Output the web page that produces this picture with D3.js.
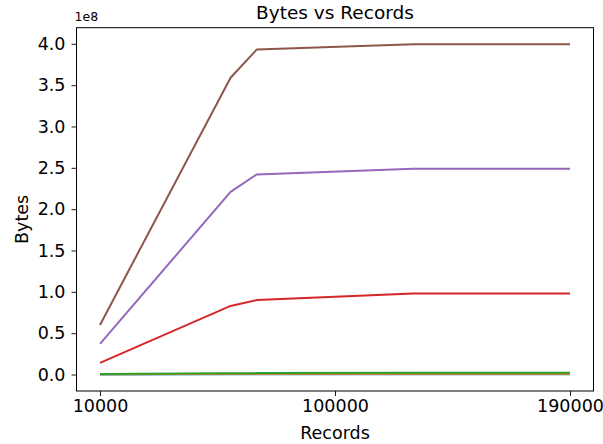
<!DOCTYPE html>
<html>
<head>
<meta charset="utf-8">
<script src="https://cdn.jsdelivr.net/npm/d3@7"></script>
<style>
  html, body { margin: 0; padding: 0; background: #fff; }
  svg { display: block; font-family: "DejaVu Sans", sans-serif; }
</style>
</head>
<body>
<svg id="chart" width="603" height="444"></svg>
<script>
// ---- data ----
const records = [10000, 60000, 70000, 130000, 190000];
const seriesBlue   = [0.0005e8, 0.002e8, 0.0025e8, 0.003e8, 0.003e8];
const seriesOrange = [0.002e8, 0.008e8, 0.009e8, 0.01e8, 0.01e8];
const seriesGreen  = [0.005e8, 0.015e8, 0.017e8, 0.02e8, 0.02e8];
const seriesRed    = [0.14e8, 0.83e8, 0.90e8, 0.98e8, 0.98e8];
const seriesPurple = [0.37e8, 2.21e8, 2.42e8, 2.49e8, 2.49e8];
const seriesBrown  = [0.60e8, 3.59e8, 3.93e8, 3.995e8, 3.995e8];
const seriesColors = ["#1f77b4", "#ff7f0e", "#2ca02c", "#d62728", "#9467bd", "#8c564b"];
const xTickValues = [10000, 100000, 190000];
const yTickValues = [0, 0.5e8, 1.0e8, 1.5e8, 2.0e8, 2.5e8, 3.0e8, 3.5e8, 4.0e8];
const titleText = "Bytes vs Records";
const xLabel = "Records";
const yLabel = "Bytes";
const offsetText = "1e8";

const allSeries = [seriesBlue, seriesOrange, seriesGreen, seriesRed, seriesPurple, seriesBrown];

// ---- layout ----
const W = 603, H = 444;
const m = { left: 76.5, right: 9.5, top: 27.7, bottom: 53 };
const iw = W - m.left - m.right, ih = H - m.top - m.bottom;

const svg = d3.select("#chart");
const g = svg.append("g").attr("transform", `translate(${m.left},${m.top})`);

const xMin = d3.min(records), xMax = d3.max(records);
const xPad = (xMax - xMin) * 0.05;
const x = d3.scaleLinear().domain([xMin - xPad, xMax + xPad]).range([0, iw]);

const allVals = allSeries.flat();
const yMin = d3.min(allVals), yMax = d3.max(allVals);
const yPad = (yMax - yMin) * 0.05;
const y = d3.scaleLinear().domain([yMin - yPad, yMax + yPad]).range([ih, 0]);

const fs = 17.5;

// axes
const xAxis = d3.axisBottom(x).tickValues(xTickValues).tickFormat(d3.format("d")).tickSizeInner(5).tickSizeOuter(0).tickPadding(4);
const yAxis = d3.axisLeft(y).tickValues(yTickValues).tickFormat(d => (d / 1e8).toFixed(1)).tickSizeInner(5).tickSizeOuter(0).tickPadding(6);

const gx = g.append("g").attr("transform", `translate(0,${ih})`).call(xAxis);
const gy = g.append("g").call(yAxis);
[gx, gy].forEach(a => {
  a.select(".domain").remove();
  a.selectAll(".tick line").attr("stroke", "#000").attr("stroke-width", 0.9);
  a.selectAll(".tick text").attr("fill", "#000").style("font-size", fs + "px").style("font-family", "DejaVu Sans");
});

// lines
const line = d3.line().x((d, i) => x(records[i])).y(d => y(d));
allSeries.forEach((s, k) => {
  g.append("path").datum(s)
    .attr("fill", "none")
    .attr("stroke", seriesColors[k])
    .attr("stroke-width", 2)
    .attr("stroke-linejoin", "round")
    .attr("d", line);
});

// frame
g.append("rect").attr("x", 0).attr("y", 0).attr("width", iw).attr("height", ih)
  .attr("fill", "none").attr("stroke", "#000").attr("stroke-width", 1);

// labels
svg.append("text").attr("x", m.left + iw / 2).attr("y", 19)
  .attr("text-anchor", "middle").style("font-size", "18.5px").text(titleText);
svg.append("text").attr("x", m.left + iw / 2).attr("y", 439)
  .attr("text-anchor", "middle").style("font-size", fs + "px").text(xLabel);
svg.append("text").attr("transform", `translate(28,${m.top + ih / 2 + 10}) rotate(-90)`)
  .attr("text-anchor", "middle").style("font-size", fs + "px").text(yLabel);
svg.append("text").attr("x", m.left - 2).attr("y", 21)
  .style("font-size", "12.5px").text(offsetText);
</script>
</body>
</html>
